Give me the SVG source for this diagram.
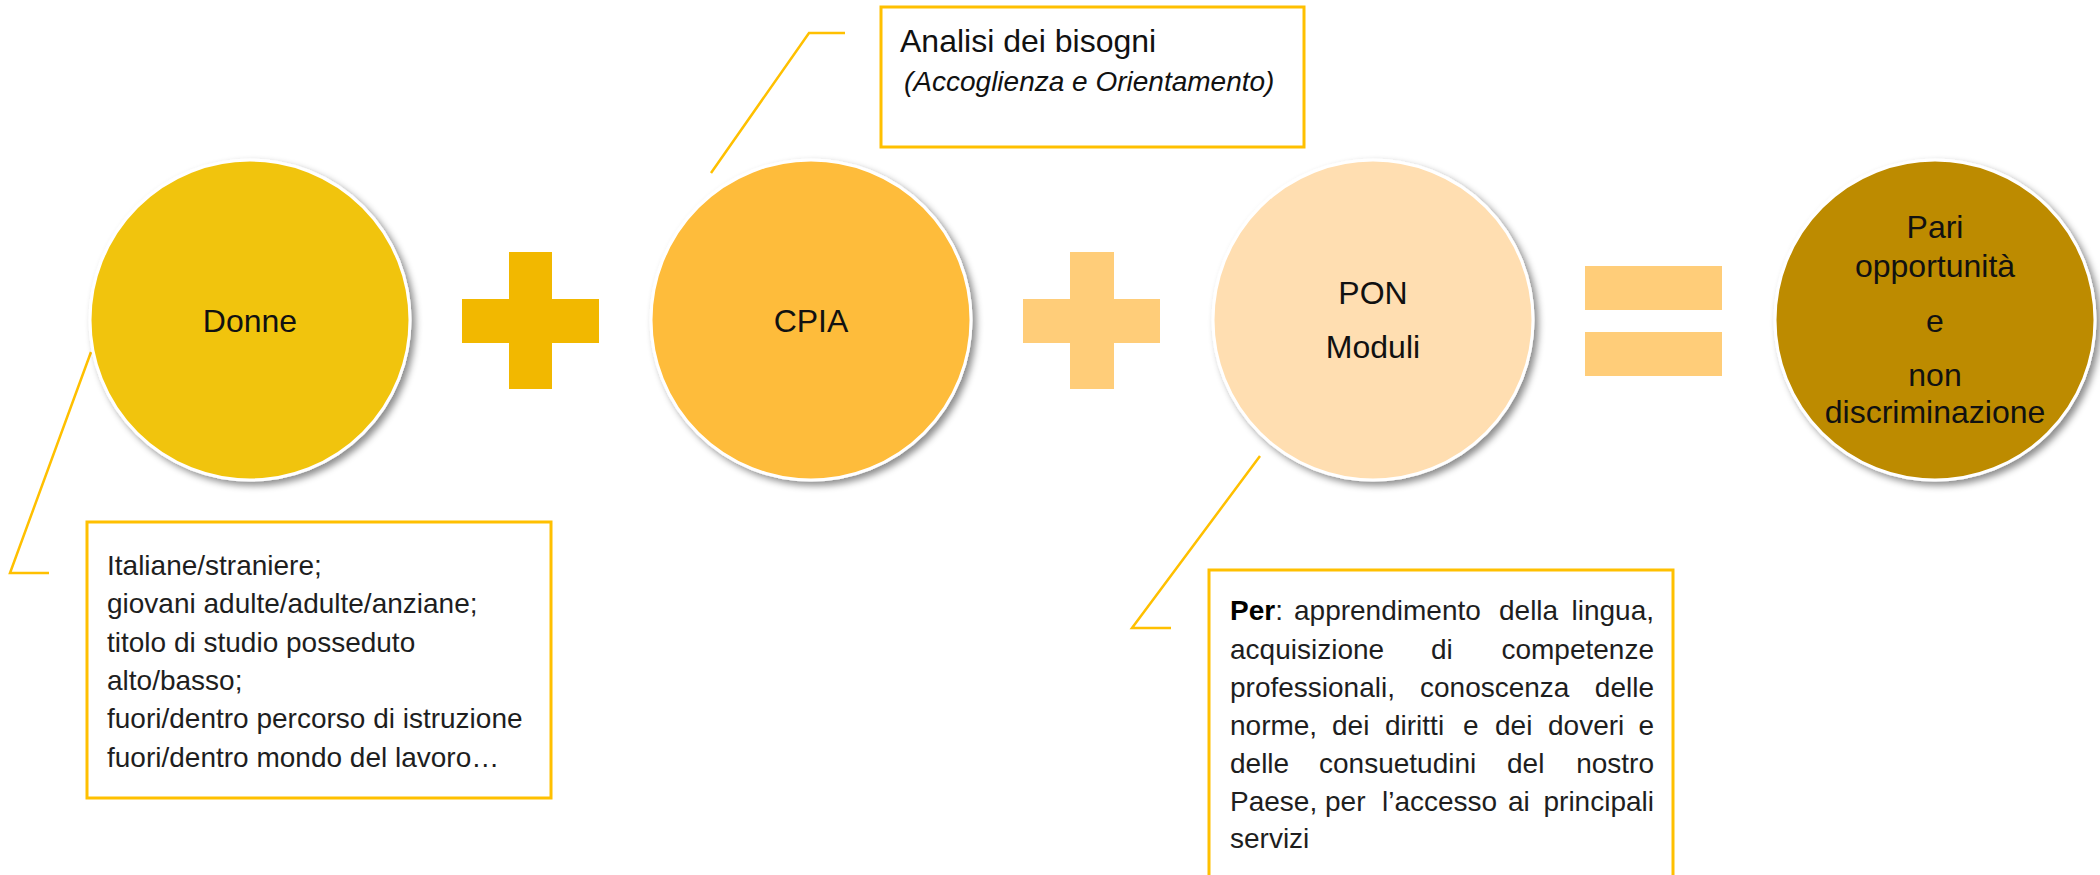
<svg xmlns="http://www.w3.org/2000/svg" width="2100" height="875" viewBox="0 0 2100 875">
<style>
.t{font-family:"Liberation Sans",Arial,sans-serif;fill:#111}
.c{font-size:32px;text-anchor:middle}
.b{font-size:28px;fill:#1e1e1e}
.box{fill:#fff;stroke:#FFC000;stroke-width:3}
.ln{fill:none;stroke:#FFC000;stroke-width:2.5}
.circ{stroke:#fff;stroke-width:3;filter:url(#sh)}
</style>
<defs>
<filter id="sh" x="-20%" y="-20%" width="150%" height="150%">
<feDropShadow dx="4" dy="4" stdDeviation="3.5" flood-color="#000" flood-opacity="0.45"/>
</filter>
</defs>
<rect width="2100" height="875" fill="#fff"/>
<g id="connectors">
<polyline class="ln" points="711,173 809,33 845,33"/>
<polyline class="ln" points="91,352 10,573 49,573"/>
<polyline class="ln" points="1260,456 1132,628 1171,628"/>
</g>
<g id="donne">
<circle class="circ" cx="250" cy="320" r="160" fill="#F1C411"/>
<text class="t c" x="250" y="332">Donne</text>
</g>
<g id="plus1" fill="#F2B800">
<rect x="509" y="252" width="43" height="137"/>
<rect x="462" y="299" width="137" height="44"/>
</g>
<g id="cpia">
<circle class="circ" cx="811" cy="320" r="160" fill="#FEBC3B"/>
<text class="t c" x="811" y="332">CPIA</text>
</g>
<g id="plus2" fill="#FFCD79">
<rect x="1070" y="252" width="44" height="137"/>
<rect x="1023" y="299" width="137" height="44"/>
</g>
<g id="pon">
<circle class="circ" cx="1373" cy="320" r="160" fill="#FFDEB1"/>
<text class="t c" x="1373" y="304">PON</text>
<text class="t c" x="1373" y="358">Moduli</text>
</g>
<g id="equals" fill="#FFCD79">
<rect x="1585" y="266" width="137" height="44"/>
<rect x="1585" y="332" width="137" height="44"/>
</g>
<g id="pari">
<circle class="circ" cx="1935" cy="320" r="160" fill="#BD8B00"/>
<text class="t c" x="1935" y="238">Pari</text>
<text class="t c" x="1935" y="277">opportunità</text>
<text class="t c" x="1935" y="332">e</text>
<text class="t c" x="1935" y="386">non</text>
<text class="t c" x="1935" y="423">discriminazione</text>
</g>
<g id="analisi">
<rect class="box" x="881" y="7" width="423" height="140"/>
<text class="t" x="900" y="52" font-size="32">Analisi dei bisogni</text>
<text class="t" x="904" y="91" font-size="28" font-style="italic" fill="#3a3a3a">(Accoglienza e Orientamento)</text>
</g>
<g id="donne-box">
<rect class="box" x="87" y="522" width="464" height="276"/>
<text class="t b" x="107" y="575">Italiane/straniere;</text>
<text class="t b" x="107" y="613">giovani adulte/adulte/anziane;</text>
<text class="t b" x="107" y="652">titolo di studio posseduto</text>
<text class="t b" x="107" y="690">alto/basso;</text>
<text class="t b" x="107" y="728">fuori/dentro percorso di istruzione</text>
<text class="t b" x="107" y="767">fuori/dentro mondo del lavoro…</text>
</g>
<g id="per-box">
<rect class="box" x="1209" y="570" width="464" height="340"/>
<g class="t b">
<text x="1230" y="620"><tspan font-weight="bold" fill="#000">Per</tspan>:</text>
<text x="1294" y="620">apprendimento</text>
<text x="1499" y="620">della</text>
<text x="1654" y="620" text-anchor="end">lingua,</text>
<text x="1230" y="659">acquisizione</text>
<text x="1431" y="659">di</text>
<text x="1654" y="659" text-anchor="end">competenze</text>
<text x="1230" y="697">professionali,</text>
<text x="1420" y="697">conoscenza</text>
<text x="1654" y="697" text-anchor="end">delle</text>
<text x="1230" y="735">norme,</text>
<text x="1332" y="735">dei</text>
<text x="1385" y="735">diritti</text>
<text x="1463" y="735">e</text>
<text x="1495" y="735">dei</text>
<text x="1548" y="735">doveri</text>
<text x="1654" y="735" text-anchor="end">e</text>
<text x="1230" y="773">delle</text>
<text x="1319" y="773">consuetudini</text>
<text x="1507" y="773">del</text>
<text x="1654" y="773" text-anchor="end">nostro</text>
<text x="1230" y="811">Paese,</text>
<text x="1325" y="811">per</text>
<text x="1382" y="811">l’accesso</text>
<text x="1508" y="811">ai</text>
<text x="1654" y="811" text-anchor="end">principali</text>
<text x="1230" y="848">servizi</text>
</g>
</g>
</svg>
